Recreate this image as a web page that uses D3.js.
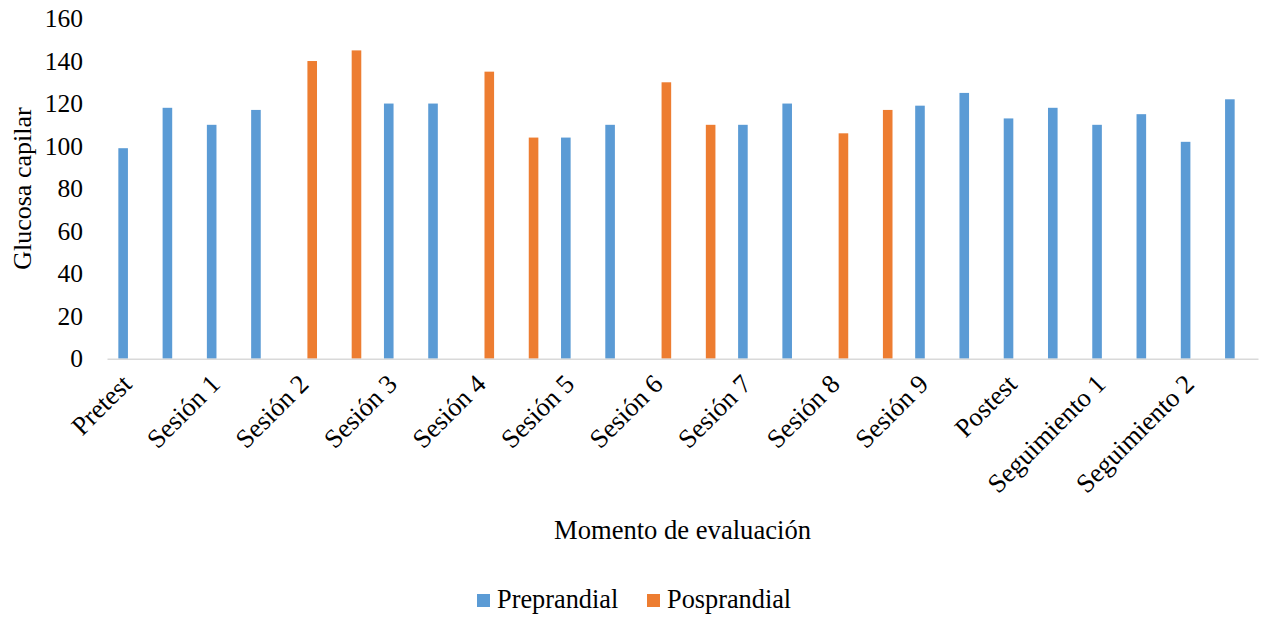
<!DOCTYPE html>
<html lang="es">
<head>
<meta charset="utf-8">
<script src="https://cdn.jsdelivr.net/npm/d3@7/dist/d3.min.js"></script>
<style>
  html, body { margin: 0; padding: 0; background: #fff; }
  svg { display: block; }
</style>
</head>
<body>
<svg id="chart" width="1262" height="619" font-family="Liberation Serif"></svg>
<script>
// Evaluation moments labelled on the axis (every other slot carries a label)
const momentLabels = ["Pretest", "Sesión 1", "Sesión 2", "Sesión 3", "Sesión 4", "Sesión 5",
  "Sesión 6", "Sesión 7", "Sesión 8", "Sesión 9", "Postest", "Seguimiento 1", "Seguimiento 2"];

// 26 measurement slots
const slots = d3.range(26);

// Capillary glucose per slot (null = no reading in that series)
const preprandial = [99, 118, 110, 117, null, null, 120, 120, null, null, 104, 110, null,
  null, 110, 120, null, null, 119, 125, 113, 118, 110, 115, 102, 122];
const posprandial = [null, null, null, null, 140, 145, null, null, 135, 104, null, null, 130,
  110, null, null, 106, 117, null, null, null, null, null, null, null, null];

const seriesNames = ["Preprandial", "Posprandial"];
const seriesValues = [preprandial, posprandial];
const colors = ["#5b9bd5", "#ed7d31"];
const yTicks = [0, 20, 40, 60, 80, 100, 120, 140, 160];

const FONT = "Liberation Serif";
const svg = d3.select("#chart");
const plotLeft = 107, plotRight = 1258, plotTop = 18.5, plotBottom = 358.7;

const x0 = d3.scaleBand()
  .domain(slots)
  .range([plotLeft, plotRight])
  .paddingInner(0.458)
  .paddingOuter(0.229);

const x1 = d3.scaleBand()
  .domain(seriesNames)
  .range([0, x0.bandwidth()])
  .paddingInner(0.2)
  .paddingOuter(0.1);

const y = d3.scaleLinear().domain([0, 160]).range([plotBottom, plotTop]);

// Y axis: labels only
const yAxis = svg.append("g")
  .attr("transform", `translate(${plotLeft},0)`)
  .call(d3.axisLeft(y).tickValues(yTicks).tickSize(0).tickPadding(24))
  .attr("font-family", FONT)
  .attr("font-size", 25.5);
yAxis.select(".domain").remove();
yAxis.selectAll("text").attr("fill", "#000");

// Bars
seriesNames.forEach((name, si) => {
  const data = slots
    .map(i => ({ i, v: seriesValues[si][i] }))
    .filter(d => d.v !== null);
  svg.append("g").selectAll("rect")
    .data(data)
    .join("rect")
    .attr("x", d => x0(d.i) + x1(name))
    .attr("y", d => y(d.v))
    .attr("width", x1.bandwidth())
    .attr("height", d => y(0) - y(d.v))
    .attr("fill", colors[si]);
});

// X axis
const xAxis = svg.append("g")
  .attr("transform", `translate(0,${plotBottom})`)
  .call(d3.axisBottom(x0).tickSize(0)
    .tickFormat(i => (i % 2 === 0 ? momentLabels[i / 2] : "")))
  .attr("font-family", FONT)
  .attr("font-size", 26.5);
xAxis.select(".domain")
  .attr("stroke", "#d9d9d9")
  .attr("stroke-width", 1.6);
xAxis.selectAll("text")
  .attr("y", 0)
  .attr("dy", 0)
  .attr("transform", "translate(4,27) rotate(-45)")
  .attr("text-anchor", "end")
  .attr("fill", "#000");

// Axis titles
svg.append("text")
  .attr("x", (plotLeft + plotRight) / 2)
  .attr("y", 539)
  .attr("text-anchor", "middle")
  .attr("font-family", FONT)
  .attr("font-size", 26.6)
  .text("Momento de evaluación");

svg.append("text")
  .attr("transform", `translate(31,${(plotTop + plotBottom) / 2}) rotate(-90)`)
  .attr("text-anchor", "middle")
  .attr("font-family", FONT)
  .attr("font-size", 26)
  .text("Glucosa capilar");

// Legend
const legendPos = [477, 647];
seriesNames.forEach((name, si) => {
  const g = svg.append("g").attr("transform", `translate(${legendPos[si]},594)`);
  g.append("rect").attr("width", 13).attr("height", 13).attr("fill", colors[si]);
  g.append("text").attr("x", 20).attr("y", 14)
    .attr("font-family", FONT)
    .attr("font-size", 26.3)
    .text(name);
});
</script>
</body>
</html>
